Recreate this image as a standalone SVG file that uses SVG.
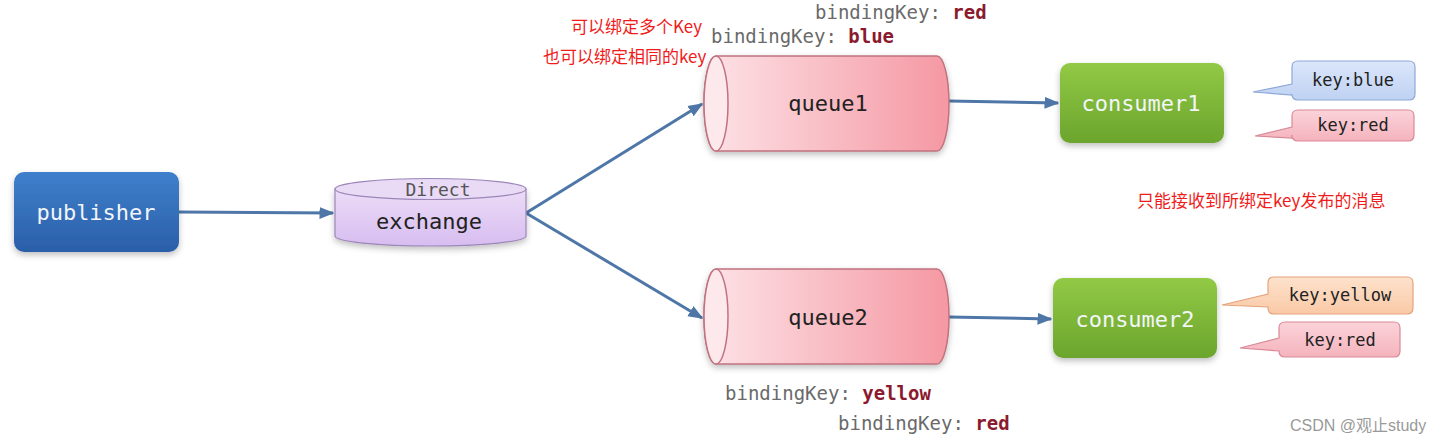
<svg xmlns="http://www.w3.org/2000/svg" width="1443" height="444" viewBox="0 0 1443 444">
<defs>
<linearGradient id="gBlue" x1="0" y1="0" x2="0" y2="1"><stop offset="0" stop-color="#3f7fcc"/><stop offset="1" stop-color="#2b5fa8"/></linearGradient>
<linearGradient id="gGreen" x1="0" y1="0" x2="0" y2="1"><stop offset="0" stop-color="#92c945"/><stop offset="1" stop-color="#6ba52d"/></linearGradient>
<linearGradient id="gQueue" x1="0" y1="0" x2="1" y2="0"><stop offset="0" stop-color="#fde3e7"/><stop offset="1" stop-color="#f598a3"/></linearGradient>
<linearGradient id="gEx" x1="0" y1="0" x2="0" y2="1"><stop offset="0" stop-color="#ecdcf7"/><stop offset="1" stop-color="#d7bdf0"/></linearGradient>
<linearGradient id="gCb" x1="0" y1="0" x2="0" y2="1"><stop offset="0" stop-color="#dbe6fa"/><stop offset="1" stop-color="#bfd2f3"/></linearGradient>
<linearGradient id="gCr" x1="0" y1="0" x2="0" y2="1"><stop offset="0" stop-color="#fbd3d9"/><stop offset="1" stop-color="#f5b3bd"/></linearGradient>
<linearGradient id="gCy" x1="0" y1="0" x2="0" y2="1"><stop offset="0" stop-color="#fde2cc"/><stop offset="1" stop-color="#fac9a6"/></linearGradient>
<filter id="sh" x="-10%" y="-10%" width="130%" height="140%"><feDropShadow dx="0" dy="3" stdDeviation="3" flood-color="#000" flood-opacity="0.25"/></filter>
<marker id="ah" viewBox="0 0 10 10" refX="9" refY="5" markerWidth="5" markerHeight="5" orient="auto" markerUnits="strokeWidth"><path d="M0,1 L10,5 L0,9 Z" fill="#4e77a8"/></marker>
<style>
.mono{font-family:"DejaVu Sans Mono","Liberation Mono",monospace;}
.node{font-size:22px;text-anchor:middle;dominant-baseline:central;}
.light{fill:#f2f5fa;}
.dark{fill:#222;}
.key{font-size:17px;text-anchor:middle;dominant-baseline:central;fill:#222;}
.bk{font-size:19px;fill:#6a6a6a;}
.bv{fill:#8b1a2e;font-weight:bold;}
.cn{font-family:"Noto Sans CJK SC",sans-serif;font-size:17px;fill:#f01c1c;}
.conn{stroke:#4e77a8;stroke-width:3;fill:none;marker-end:url(#ah);}
.q{fill:url(#gQueue);stroke:#c0727f;stroke-width:1.5;}
</style>
</defs>

<g id="connectors">
<line class="conn" x1="179" y1="212" x2="333" y2="213"/>
<line class="conn" x1="526" y1="213" x2="702" y2="104"/>
<line class="conn" x1="526" y1="213" x2="702" y2="318"/>
<line class="conn" x1="949" y1="101" x2="1058" y2="103"/>
<line class="conn" x1="949" y1="317" x2="1051" y2="319"/>
</g>

<g id="publisher">
<rect x="14" y="172" width="165" height="80" rx="10" fill="url(#gBlue)" filter="url(#sh)"/>
<text class="mono node light" x="96" y="212">publisher</text>
</g>

<g id="exchange">
<path d="M335,189 V236 A95.5,10 0 0 0 526,236 V189 Z" fill="url(#gEx)" stroke="#9c86b8" stroke-width="1.2" filter="url(#sh)"/>
<ellipse cx="430.5" cy="189" rx="95.5" ry="10.5" fill="#e9daf6" stroke="#9c86b8" stroke-width="1.2"/>
<text class="mono" x="438" y="189" font-size="18" text-anchor="middle" dominant-baseline="central" fill="#555">Direct</text>
<text class="mono node dark" x="429" y="221">exchange</text>
</g>

<g id="queue1">
<path class="q" d="M716,56 H937 A12,47.5 0 0 1 937,151 H716 A12,47.5 0 0 1 716,56 Z" filter="url(#sh)"/>
<ellipse cx="716" cy="103.5" rx="12" ry="47.5" fill="#fde8eb" stroke="#c0727f" stroke-width="1.5"/>
<text class="mono node dark" x="828" y="103">queue1</text>
</g>

<g id="queue2">
<path class="q" d="M716,269 H937 A12,47.5 0 0 1 937,364 H716 A12,47.5 0 0 1 716,269 Z" filter="url(#sh)"/>
<ellipse cx="716" cy="316.5" rx="12" ry="47.5" fill="#fde8eb" stroke="#c0727f" stroke-width="1.5"/>
<text class="mono node dark" x="828" y="317">queue2</text>
</g>

<g id="consumer1">
<rect x="1060" y="63" width="164" height="80" rx="10" fill="url(#gGreen)" filter="url(#sh)"/>
<text class="mono node light" x="1141" y="103">consumer1</text>
</g>

<g id="consumer2">
<rect x="1053" y="278" width="164" height="80" rx="10" fill="url(#gGreen)" filter="url(#sh)"/>
<text class="mono node light" x="1135" y="319">consumer2</text>
</g>

<g id="callout-c1-blue">
<path d="M1298,61 H1409 Q1415,61 1415,67 V94 Q1415,100 1409,100 H1298 Q1292,100 1292,94 V95 L1253,92 L1292,84 V67 Q1292,61 1298,61 Z" fill="url(#gCb)" stroke="#8ea8d8" stroke-width="1.2"/>
<text class="mono key" x="1353" y="80">key:blue</text>
</g>
<g id="callout-c1-red">
<path d="M1298,110 H1408 Q1414,110 1414,116 V135 Q1414,141 1408,141 H1298 Q1292,141 1292,135 V138 L1255,136 L1292,127 V116 Q1292,110 1298,110 Z" fill="url(#gCr)" stroke="#d98a97" stroke-width="1.2"/>
<text class="mono key" x="1353" y="125">key:red</text>
</g>
<g id="callout-c2-yellow">
<path d="M1274,277 H1407 Q1413,277 1413,283 V308 Q1413,314 1407,314 H1274 Q1268,314 1268,308 V307 L1222,305 L1268,294 V283 Q1268,277 1274,277 Z" fill="url(#gCy)" stroke="#e3a47c" stroke-width="1.2"/>
<text class="mono key" x="1340" y="295">key:yellow</text>
</g>
<g id="callout-c2-red">
<path d="M1285,322 H1394 Q1400,322 1400,328 V351 Q1400,357 1394,357 H1285 Q1279,357 1279,351 V351 L1240,348 L1279,338 V328 Q1279,322 1285,322 Z" fill="url(#gCr)" stroke="#d98a97" stroke-width="1.2"/>
<text class="mono key" x="1340" y="340">key:red</text>
</g>

<g id="labels">
<text class="mono bk" x="815" y="19">bindingKey: <tspan class="bv">red</tspan></text>
<text class="mono bk" x="711" y="43">bindingKey: <tspan class="bv">blue</tspan></text>
<text class="mono bk" x="725" y="400">bindingKey: <tspan class="bv">yellow</tspan></text>
<text class="mono bk" x="838" y="430">bindingKey: <tspan class="bv">red</tspan></text>
<text class="cn" x="571" y="33">可以绑定多个Key</text>
<text class="cn" x="543" y="63">也可以绑定相同的key</text>
<text class="cn" x="1137" y="207">只能接收到所绑定key发布的消息</text>
<text x="1290" y="431" font-family="'Liberation Sans','Noto Sans CJK SC',sans-serif" font-size="16" fill="#999">CSDN @观止study</text>
</g>
</svg>
